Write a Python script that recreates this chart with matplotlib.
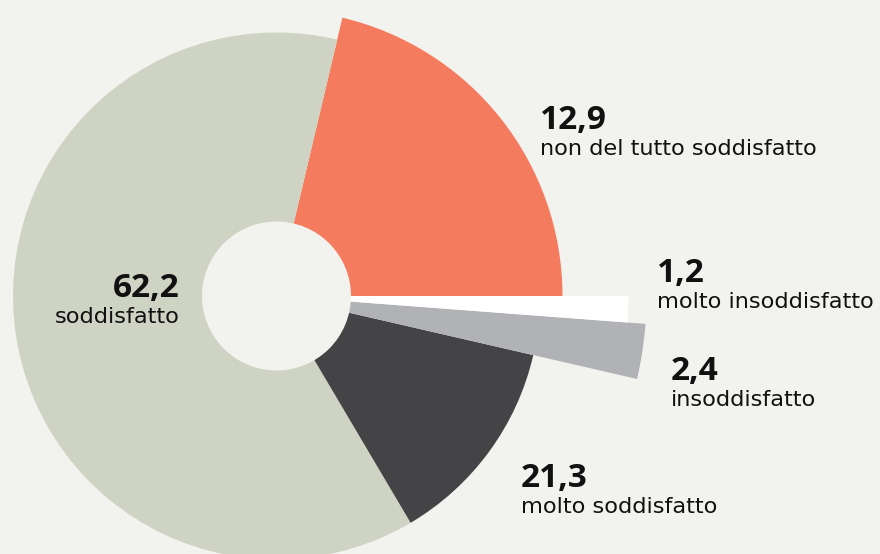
import matplotlib.pyplot as plt
from matplotlib.patches import Wedge, Circle

# wedges, counterclockwise from 3 o'clock
shares = [21.3, 62.2, 12.9, 2.4, 1.2]
colors = ["#F47B5D", "#CFD3C3", "#444447", "#B1B2B6", "#FFFFFF"]
radii = [286, 263.5, 263.5, 370, 352]

# label blocks: value, caption
values = ["12,9", "62,2", "21,3", "2,4", "1,2"]
captions = ["non del tutto soddisfatto", "soddisfatto", "molto soddisfatto",
            "insoddisfatto", "molto insoddisfatto"]
# baseline anchor of each value (pixels, y down), alignment
label_pos = [(540, 129), (180, 297), (521, 487), (671, 380), (657, 282)]
label_ha = ["left", "right", "left", "left", "left"]

bg = "#F2F2EE"
cx, cy = 276.5, 554 - 296
hole = 74.5

fig = plt.figure(figsize=(8.8, 5.54), dpi=100, facecolor=bg)
ax = fig.add_axes([0, 0, 1, 1])
ax.set_xlim(0, 880)
ax.set_ylim(0, 554)
ax.set_facecolor(bg)
ax.axis("off")

start = 0.0
for share, col, r in zip(shares, colors, radii):
    span = share / 100 * 360
    ax.add_patch(Wedge((cx, cy), r, start, start + span, facecolor=col,
                       edgecolor="none"))
    start += span

ax.add_patch(Circle((cx, cy), hole, facecolor=bg, edgecolor="none"))

for v, cap, (x, y), ha in zip(values, captions, label_pos, label_ha):
    ax.text(x, 554 - y, v, ha=ha, va="baseline", fontsize=24,
            fontweight="bold", family="Open Sans", color="#111111")
    ax.text(x, 554 - y - 26, cap, ha=ha, va="baseline", fontsize=16.2,
            family="DejaVu Sans", color="#111111")

fig.savefig("out.png", dpi=100, facecolor=bg)
